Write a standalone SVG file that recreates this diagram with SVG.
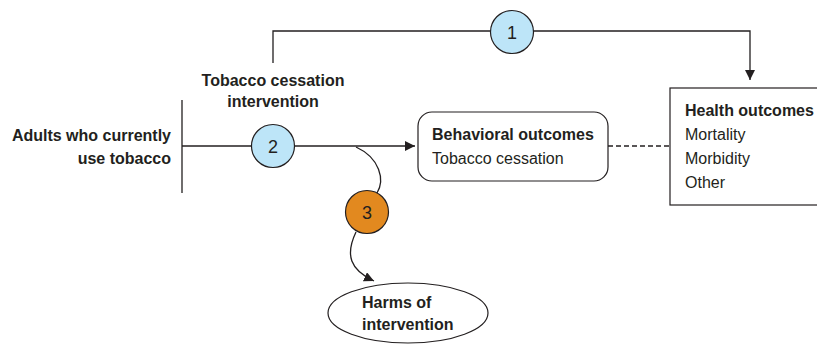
<svg xmlns="http://www.w3.org/2000/svg" width="817" height="344" viewBox="0 0 817 344">
<defs>
<style>
.ln{fill:none;stroke:#231f20;stroke-width:1.3}
.t{font-family:"Liberation Sans",Arial,sans-serif;font-size:16px;fill:#231f20}
.b{font-weight:bold}
.num{font-family:"Liberation Sans",Arial,sans-serif;font-size:18px;fill:#231f20;text-anchor:middle}
.blue{fill:#bde5f8;stroke:#231f20;stroke-width:1.2}
.orange{fill:#e2891f;stroke:#231f20;stroke-width:1.2}
.box{fill:#fff;stroke:#231f20;stroke-width:1.2}
</style>
<marker id="arr" viewBox="0 0 10 10" refX="10" refY="5" markerWidth="10" markerHeight="10" markerUnits="userSpaceOnUse" orient="auto">
<path d="M0,0 L10,5 L0,10 Z" fill="#231f20"/>
</marker>
</defs>
<rect width="817" height="344" fill="#fff"/>
<g id="connectors">
<path class="ln" d="M273,63 V31 H750 V80" marker-end="url(#arr)"/>
<path class="ln" d="M182,146 H415" marker-end="url(#arr)"/>
<path class="ln" d="M608,146 H670" stroke-dasharray="5,3"/>
<path class="ln" d="M356,147 C380,158 385,180 377,193"/>
<path class="ln" d="M356,232 C345,255 350,270 374,281" marker-end="url(#arr)"/>
</g>
<g id="population">
<line class="ln" x1="182" y1="100" x2="182" y2="193"/>
<text class="t b" text-anchor="end" x="171" y="141">Adults who currently</text>
<text class="t b" text-anchor="end" x="171" y="164">use tobacco</text>
</g>
<g id="intervention">
<text class="t b" text-anchor="middle" x="273" y="86">Tobacco cessation</text>
<text class="t b" text-anchor="middle" x="273" y="107">intervention</text>
</g>
<g id="kq1">
<circle class="blue" cx="512" cy="32" r="21.5"/>
<text class="num" x="512" y="38.5">1</text>
</g>
<g id="kq2">
<circle class="blue" cx="273" cy="146" r="21.5"/>
<text class="num" x="273" y="152.5">2</text>
</g>
<g id="kq3">
<circle class="orange" cx="367" cy="212" r="21.5"/>
<text class="num" x="367" y="218.5">3</text>
</g>
<g id="behavioral">
<rect class="box" x="418" y="112" width="190" height="69" rx="14"/>
<text class="t b" x="432" y="140">Behavioral outcomes</text>
<text class="t" x="432" y="164">Tobacco cessation</text>
</g>
<g id="health">
<rect class="box" x="670" y="88" width="160" height="117"/>
<text class="t b" x="685" y="116">Health outcomes</text>
<text class="t" x="685" y="140">Mortality</text>
<text class="t" x="685" y="164">Morbidity</text>
<text class="t" x="685" y="188">Other</text>
</g>
<g id="harms">
<ellipse class="box" cx="408" cy="313" rx="80" ry="30"/>
<text class="t b" x="362" y="308">Harms of</text>
<text class="t b" x="362" y="330">intervention</text>
</g>
</svg>
